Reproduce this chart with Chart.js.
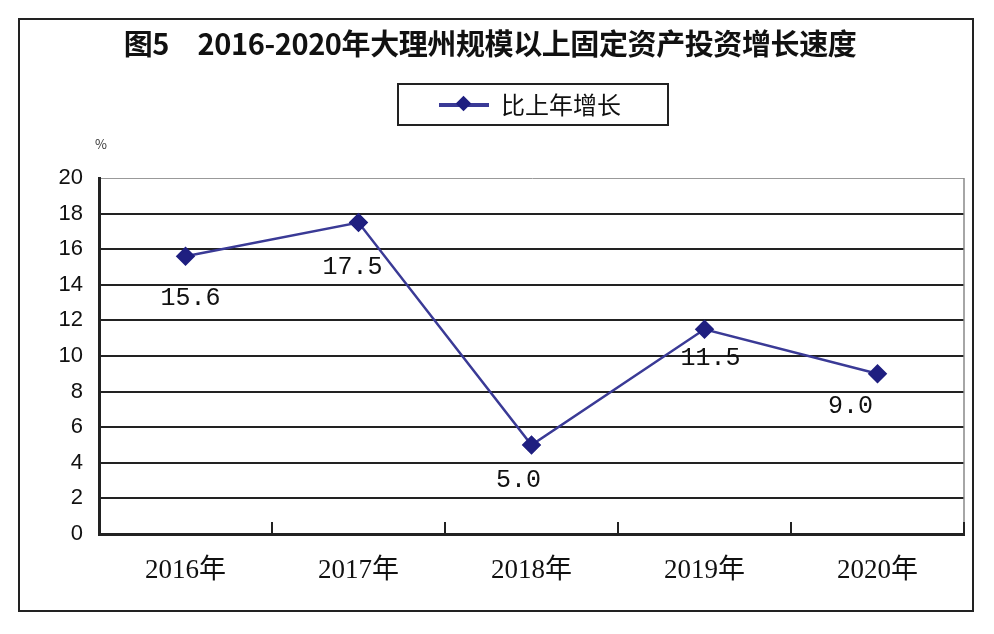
<!DOCTYPE html>
<html>
<head>
<meta charset="utf-8">
<script src="https://cdn.jsdelivr.net/npm/chart.js@4.4.0/dist/chart.umd.min.js"></script>
<style>
  html, body { margin: 0; padding: 0; background: #fff; }
  #wrap { position: relative; width: 994px; height: 634px; overflow: hidden; }
  #frame { position: absolute; left: 18px; top: 18px; width: 952px; height: 590px; border: 2px solid #222; pointer-events: none; }
  #title { position: absolute; left: 0; width: 980px; top: 21px; text-align: center; font: bold 29px "Noto Sans CJK SC", sans-serif; color: #111; letter-spacing: -0.4px; }
  #legend { position: absolute; left: 397px; top: 83px; width: 268px; height: 39px; border: 2px solid #222; }
  #legend .mark { position: absolute; left: 40px; top: 18px; width: 50px; height: 4px; background: #3a3a96; }
  #legend .dia { position: absolute; left: 59px; top: 13px; width: 11px; height: 11px; background: #1f1f80; transform: rotate(45deg); }
  #legend .txt { position: absolute; left: 102px; top: 1px; font: 24px "Noto Sans CJK SC", sans-serif; color: #111; }
  #pct { position: absolute; left: 95px; top: 134px; font: 13px "Noto Sans CJK SC", sans-serif; color: #333; }
</style>
</head>
<body>
<div id="wrap">
  <canvas id="c" width="994" height="634"></canvas>
  <div id="title">图5　2016-2020年大理州规模以上固定资产投资增长速度</div>
  <div id="legend"><div class="mark"></div><div class="dia"></div><div class="txt">比上年增长</div></div>
  <div id="pct">%</div>
  <div id="frame"></div>
</div>
<script>
const years = ['2016年', '2017年', '2018年', '2019年', '2020年'];
const growth = [15.6, 17.5, 5.0, 11.5, 9.0];
const seriesName = '比上年增长';

// label offsets from each point (style only)
const labelShift = [[5, 42], [-6, 45], [-13, 35], [6, 29], [-27, 33]];

const decor = {
  id: 'decor',
  afterDraw(chart) {
    const ctx = chart.ctx, a = chart.chartArea, x = chart.scales.x;
    ctx.save();
    // right border
    ctx.strokeStyle = '#888'; ctx.lineWidth = 1.5;
    ctx.beginPath(); ctx.moveTo(a.right, a.top); ctx.lineTo(a.right, a.bottom); ctx.stroke();
    // inner tick marks at category boundaries
    ctx.strokeStyle = '#222'; ctx.lineWidth = 2;
    for (let i = 0; i < years.length; i++) {
      const px = i < years.length - 1 ? (x.getPixelForTick(i) + x.getPixelForTick(i + 1)) / 2 : a.right;
      ctx.beginPath(); ctx.moveTo(px, a.bottom); ctx.lineTo(px, a.bottom - 12); ctx.stroke();
    }
    // data labels
    const meta = chart.getDatasetMeta(0);
    ctx.fillStyle = '#111'; ctx.font = '25px "Liberation Mono", monospace';
    ctx.textAlign = 'center'; ctx.textBaseline = 'middle';
    meta.data.forEach((p, i) => {
      ctx.fillText(growth[i].toFixed(1), p.x + labelShift[i][0], p.y + labelShift[i][1]);
    });
    ctx.restore();
  }
};

new Chart(document.getElementById('c'), {
  type: 'line',
  data: {
    labels: years,
    datasets: [{
      label: seriesName, data: growth,
      borderColor: '#3a3a96', borderWidth: 2.5,
      pointStyle: 'rectRot', pointRadius: 8, pointHoverRadius: 8,
      pointBackgroundColor: '#1f1f80', pointBorderColor: '#1f1f80',
      tension: 0, fill: false
    }]
  },
  options: {
    responsive: false, animation: false, devicePixelRatio: 1,
    layout: { padding: { top: 178, right: 30, left: 0, bottom: 0 } },
    plugins: { legend: { display: false }, title: { display: false }, tooltip: { enabled: false } },
    scales: {
      x: {
        offset: true,
        grid: { display: false, drawTicks: false },
        border: { display: true, color: '#222', width: 3 },
        ticks: { color: '#111', padding: 21, font: { family: '"Liberation Serif", "Noto Sans CJK SC", serif', size: 27 } },
        afterFit: s => { s.height = 100; }
      },
      y: {
        min: 0, max: 20,
        grid: {
          drawTicks: false,
          color: c => c.tick && c.tick.value === 20 ? '#999' : '#222',
          lineWidth: c => c.tick && c.tick.value === 20 ? 1 : 2
        },
        border: { display: true, color: '#222', width: 3 },
        ticks: { stepSize: 2, color: '#111', padding: 16, font: { family: '"Liberation Sans", sans-serif', size: 22 } },
        afterFit: s => { s.width = 99; }
      }
    }
  },
  plugins: [decor]
});
</script>
</body>
</html>
